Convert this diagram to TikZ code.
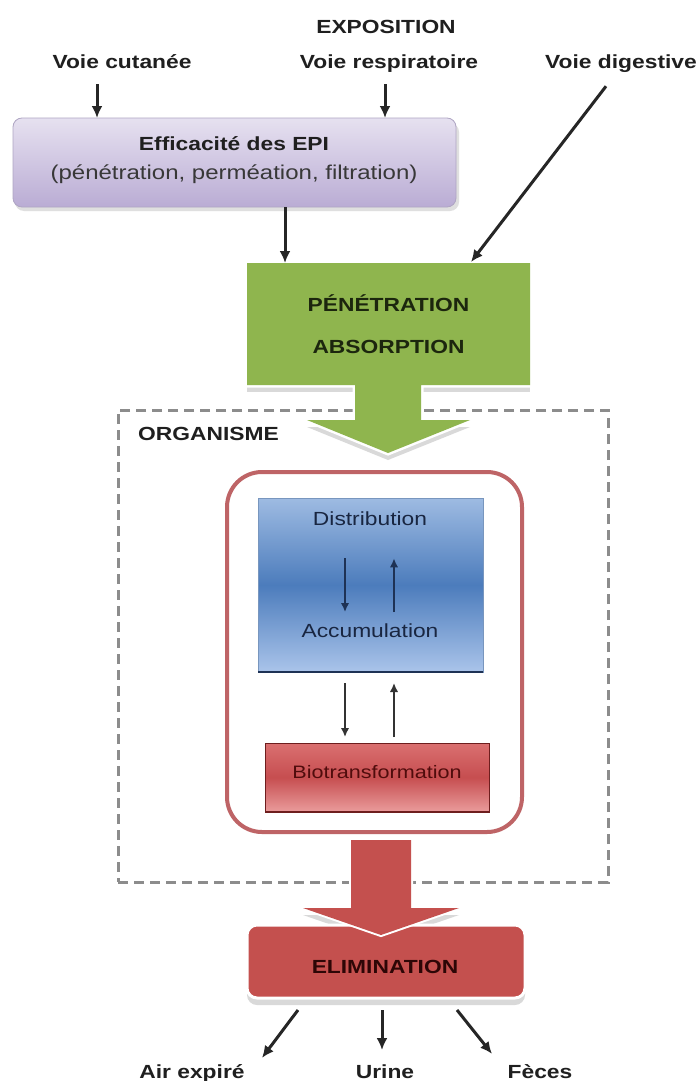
\documentclass[tikz,border=0pt]{standalone}
\usepackage{fontspec}
\setmainfont[FakeStretch=1.2]{Liberation Sans}
\usetikzlibrary{arrows.meta,calc,positioning}

\definecolor{epitop}{RGB}{230,225,240}
\definecolor{epibot}{RGB}{186,172,212}
\definecolor{epiline}{RGB}{175,165,195}
\definecolor{pengreen}{RGB}{143,181,78}
\definecolor{pentext}{RGB}{28,38,14}
\definecolor{orggray}{RGB}{140,140,140}
\definecolor{bodyred}{RGB}{190,100,102}
\definecolor{bluetop}{RGB}{158,187,226}
\definecolor{bluemid}{RGB}{76,124,188}
\definecolor{bluebot}{RGB}{170,196,234}
\definecolor{bluebord}{RGB}{120,150,190}
\definecolor{blueline}{RGB}{30,50,85}
\definecolor{bluetext}{RGB}{25,38,65}
\definecolor{biotop}{RGB}{218,112,112}
\definecolor{biomid}{RGB}{198,78,80}
\definecolor{biobot}{RGB}{234,156,156}
\definecolor{bioline}{RGB}{110,30,30}
\definecolor{biotext}{RGB}{80,12,12}
\definecolor{elimred}{RGB}{196,80,78}
\definecolor{elimtext}{RGB}{45,6,6}

\newcommand{\labfont}{\fontsize{19}{22}\selectfont\bfseries}
\newcommand{\txtfont}{\fontsize{19}{22}\selectfont}

\begin{document}
\begin{tikzpicture}[x=1pt,y=-1pt,
  lab/.style={font=\labfont,text=black!88,inner sep=0pt,anchor=base},
  txt/.style={font=\txtfont,inner sep=0pt,anchor=base},
  arr/.style={-{Latex[length=12pt,width=11pt]},line width=3pt,black!85},
  inarr/.style={-{Latex[length=9pt,width=8.5pt]},line width=1.9pt},
  box/.style={inner sep=0pt,outer sep=0pt}]
  \useasboundingbox (0,0) rectangle (698,1081);
  \fill[white] (0,0) rectangle (698,1081);

  % exposure
  \node[lab] (expo) at (386,34) {EXPOSITION};
  \node[lab] (cut) at (122,69) {Voie cutanée};
  \node[lab] (resp) at (389,69) {Voie respiratoire};
  \node[lab] (dig) at (621,69) {Voie digestive};

  \fill[gray!25,rounded corners=9pt] (15,123) rectangle (459,211);
  \node[box,minimum width=443pt,minimum height=89pt,rounded corners=9pt,
    top color=epitop,bottom color=epibot,draw=epiline,line width=0.8pt] (epi) at (234.5,162.5) {};
  \node[lab] (epit) at (234,150) {Efficacité des EPI};
  \node[txt,font=\fontsize{20}{24}\selectfont,text=black!78] (epis) at (234,179) {(pénétration, perméation, filtration)};

  % organism
  \node[box,minimum width=490pt,minimum height=472pt,draw=orggray,line width=3pt,
    dash pattern=on 10pt off 6pt] (org) at (363,646) {};
  \node[lab,anchor=base west] (orgt) at (138,440) {ORGANISME};

  % absorption callout
  \fill[gray!30] (247,270) rectangle (530,392);
  \fill[gray!30] (355,392) -- (355,427) -- (307,427) -- (388,460) -- (470,427) -- (421,427) -- (421,392) -- cycle;
  \draw[white,line width=5pt,fill=white] (247,263) -- (530,263) -- (530,385) -- (421,385) -- (421,420) -- (470,420)
    -- (388,453) -- (307,420) -- (355,420) -- (355,385) -- (247,385) -- cycle;
  \fill[pengreen] (247,263) -- (530,263) -- (530,385) -- (421,385) -- (421,420) -- (470,420)
    -- (388,453) -- (307,420) -- (355,420) -- (355,385) -- (247,385) -- cycle;
  \node[box,font=\labfont,text=pentext,align=center,minimum width=283pt,minimum height=122pt] (pen) at (388.5,324)
    {PÉNÉTRATION\\[20pt]ABSORPTION};

  \coordinate (xc) at (97,0);
  \coordinate (xr) at (385,0);
  \coordinate (xe) at (285,0);
  \draw[arr,shorten <=15pt] (cut.south -| xc) -- (epi.north -| xc);
  \draw[arr,shorten <=11pt] (resp.south -| xr) -- (epi.north -| xr);
  \draw[arr] (epi.south -| xe) -- (pen.north -| xe);
  \draw[arr] ($(dig.south)+(-15,13)$) -- ($(pen.north east)+(-59,-1)$);

  % body
  \node[box,minimum width=295pt,minimum height=360pt,rounded corners=35pt,draw=bodyred,
    line width=4pt,fill=white] (body) at (374.5,652) {};
  \node[box,minimum width=225pt,minimum height=174pt,top color=bluetop,bottom color=bluebot,
    middle color=bluemid,draw=bluebord,line width=0.6pt] (blue) at (370.5,585) {};
  \draw[blueline,line width=2.5pt] (blue.south west) -- (blue.south east);
  \node[txt,text=bluetext] (dist) at (370,525) {Distribution};
  \node[txt,text=bluetext] (accu) at (370,637) {Accumulation};
  \node[box,minimum width=224pt,minimum height=69pt,top color=biotop,bottom color=biobot,
    middle color=biomid,draw=bioline,line width=0.8pt] (bio) at (377,777.5) {};
  \draw[bioline,line width=2.5pt] (bio.south west) -- (bio.south east);
  \node[txt,font=\fontsize{18}{22}\selectfont,text=biotext] (biot) at (377,778) {Biotransformation};

  \coordinate (lx) at (345,0);
  \coordinate (rx) at (394,0);
  \draw[inarr,blueline,shorten <=33pt,shorten >=11pt] (dist.south -| lx) -- (accu.north -| lx);
  \draw[inarr,blueline,shorten <=11pt,shorten >=33pt] (accu.north -| rx) -- (dist.south -| rx);
  \draw[inarr,black!80,shorten <=11pt,shorten >=6pt] (blue.south -| lx) -- (bio.north -| lx);
  \draw[inarr,black!80,shorten <=6pt,shorten >=11pt] (bio.north -| rx) -- (blue.south -| rx);

  % elimination callout
  \fill[gray!30] (351,847) -- (351,915) -- (303,915) -- (381,942) -- (459,915) -- (411,915) -- (411,847) -- cycle;
  \fill[gray!30,rounded corners=10pt] (247,932) rectangle (525,1005);
  \node[box,minimum width=278pt,minimum height=73pt,rounded corners=10pt,fill=elimred,
    draw=white,line width=3pt] (elim) at (386,961.5) {};
  \draw[white,line width=4pt,fill=white] (351,840) -- (351,908) -- (303,908) -- (381,935) -- (459,908)
    -- (411,908) -- (411,840) -- cycle;
  \fill[elimred] (351,840) -- (351,908) -- (303,908) -- (381,935) -- (459,908) -- (411,908) -- (411,840) -- cycle;
  \node[lab,text=elimtext] (elimt) at (385,973) {ELIMINATION};

  % excretion
  \node[lab] (air) at (192,1078) {Air expiré};
  \node[lab] (urine) at (385,1078) {Urine};
  \node[lab] (feces) at (540,1078) {Fèces};
  \draw[arr] ($(elim.south)+(-88,12)$) -- ($(air.north)+(70,-6)$);
  \draw[arr] ($(elim.south)+(-4,12)$) -- ($(urine.north)+(-3,-14)$);
  \draw[arr] ($(elim.south)+(71,12)$) -- ($(feces.north)+(-48,-10)$);
\end{tikzpicture}
\end{document}
